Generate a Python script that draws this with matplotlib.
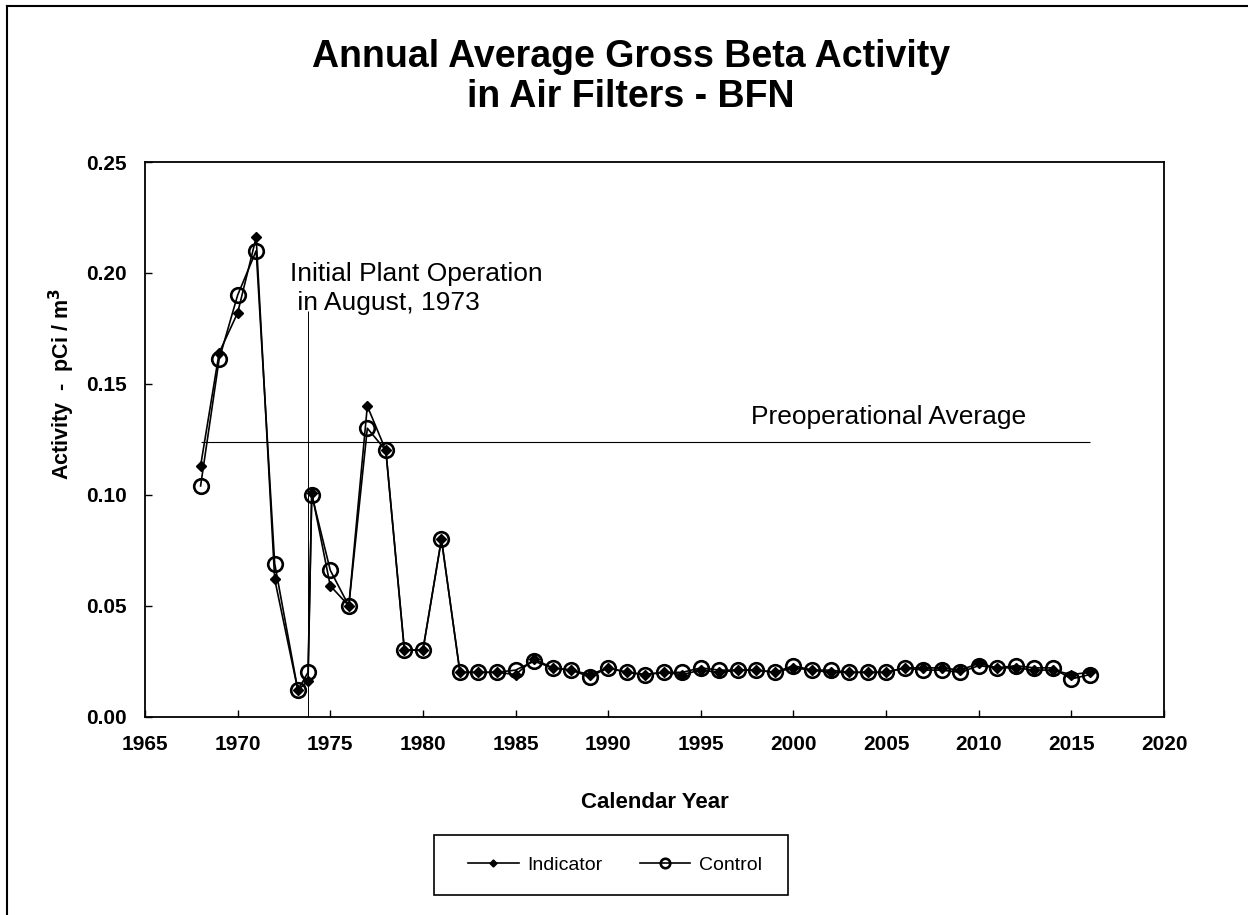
import matplotlib
matplotlib.use("Agg")
import matplotlib.pyplot as plt
from matplotlib.lines import Line2D
from matplotlib.patches import Rectangle

plt.rcParams['font.family'] = ['Liberation Sans', 'DejaVu Sans']

# ---- data ----
years = [1968, 1969, 1970, 1971, 1972, 1973.25, 1973.8,
         1974, 1975, 1976, 1977, 1978, 1979, 1980, 1981,
         1982, 1983, 1984, 1985, 1986, 1987, 1988, 1989, 1990, 1991,
         1992, 1993, 1994, 1995, 1996, 1997, 1998, 1999, 2000, 2001,
         2002, 2003, 2004, 2005, 2006, 2007, 2008, 2009, 2010, 2011,
         2012, 2013, 2014, 2015, 2016]
indicator = [0.113, 0.164, 0.182, 0.216, 0.062, 0.012, 0.016,
             0.101, 0.059, 0.050, 0.140, 0.120, 0.030, 0.030, 0.080,
             0.020, 0.020, 0.020, 0.019, 0.026, 0.022, 0.021, 0.019, 0.022, 0.020,
             0.019, 0.020, 0.019, 0.021, 0.020, 0.021, 0.021, 0.020, 0.022, 0.021,
             0.020, 0.020, 0.020, 0.020, 0.022, 0.022, 0.022, 0.021, 0.024, 0.022,
             0.022, 0.021, 0.021, 0.019, 0.020]
control = [0.104, 0.161, 0.190, 0.210, 0.069, 0.012, 0.020,
           0.100, 0.066, 0.050, 0.130, 0.120, 0.030, 0.030, 0.080,
           0.020, 0.020, 0.020, 0.021, 0.025, 0.022, 0.021, 0.018, 0.022, 0.020,
           0.019, 0.020, 0.020, 0.022, 0.021, 0.021, 0.021, 0.020, 0.023, 0.021,
           0.021, 0.020, 0.020, 0.020, 0.022, 0.021, 0.021, 0.020, 0.023, 0.022,
           0.023, 0.022, 0.022, 0.017, 0.019]
preop_average = 0.124
preop_span = [1968, 2016]
plant_start = 1973.8
plant_line_top = 0.183
x_ticks = [1965, 1970, 1975, 1980, 1985, 1990, 1995, 2000, 2005, 2010, 2015, 2020]
y_ticks = [0.00, 0.05, 0.10, 0.15, 0.20, 0.25]

W, H = 1248, 915
fig = plt.figure(figsize=(W / 100, H / 100), dpi=100)
ax = fig.add_axes([145 / W, 1 - 716.7 / H, 1019 / W, 554.7 / H])

# figure border (left and top visible)
fig.add_artist(Line2D([7 / W, 7 / W], [0, 1 - 6 / H], transform=fig.transFigure,
                      color='black', lw=1.5))
fig.add_artist(Line2D([7 / W, 1], [1 - 6 / H, 1 - 6 / H], transform=fig.transFigure,
                      color='black', lw=1.5))

ax.plot(years, indicator, color='black', lw=1.2, marker='D', ms=5.5,
        mfc='black', mec='black', label='Indicator', zorder=3)
ax.plot(years, control, color='black', lw=1.2, marker='o', ms=10.5,
        mfc='none', mec='black', mew=1.9, label='Control', zorder=4)

ax.hlines(preop_average, preop_span[0], preop_span[1], color='black', lw=0.8, zorder=2)
ax.vlines(plant_start, 0, plant_line_top, color='black', lw=0.7, zorder=2)

ax.text(1997.7, 0.132, 'Preoperational Average', fontsize=19, ha='left', va='baseline')
ax.text(1972.82, 0.1963, 'Initial Plant Operation', fontsize=19, ha='left', va='baseline')
ax.text(1972.82, 0.1835, ' in August, 1973', fontsize=19, ha='left', va='baseline')

ax.set_xlim(1965, 2020)
ax.set_ylim(0, 0.25)
ax.set_xticks(x_ticks)
ax.set_yticks(y_ticks)
ax.set_xticklabels([str(v) for v in x_ticks])
ax.set_yticklabels([f'{v:.2f}' for v in y_ticks])
ax.tick_params(direction='in', length=5, width=1, labelsize=15, pad=13)
for lab in ax.get_xticklabels() + ax.get_yticklabels():
    lab.set_fontweight('bold')
for s in ax.spines.values():
    s.set_linewidth(1.3)
    s.set_color('black')

ax.set_xlabel('Calendar Year', fontsize=16, fontweight='bold')
ax.xaxis.set_label_coords(0.5, -(802 - 716.7) / 554.7)
ax.xaxis.label.set_va('center')
ax.set_ylabel('Activity  -  pCi / m$^\\mathbf{3}$', fontsize=15.5, fontweight='bold')
ax.yaxis.set_label_coords(-(145 - 62) / 1019, 0.6)
ax.yaxis.label.set_va('center')

fig.text(0.5056, 1 - 77 / H, 'Annual Average Gross Beta Activity\nin Air Filters - BFN',
         fontsize=27, fontweight='bold', ha='center', va='center', linespacing=1.12)

# legend box drawn explicitly, entries centred inside it
fig.add_artist(Rectangle((434 / W, 1 - 895 / H), 354 / W, 60 / H, transform=fig.transFigure,
                         fill=False, edgecolor='black', lw=1.2))
leg = fig.legend(loc='center', bbox_to_anchor=(615 / W, 1 - 865 / H), ncol=2,
                 fontsize=14, frameon=False,
                 handlelength=2.6, handletextpad=0.45, columnspacing=1.9,
                 borderpad=0.5, markerscale=0.65)

fig.savefig('out.png', dpi=100)
